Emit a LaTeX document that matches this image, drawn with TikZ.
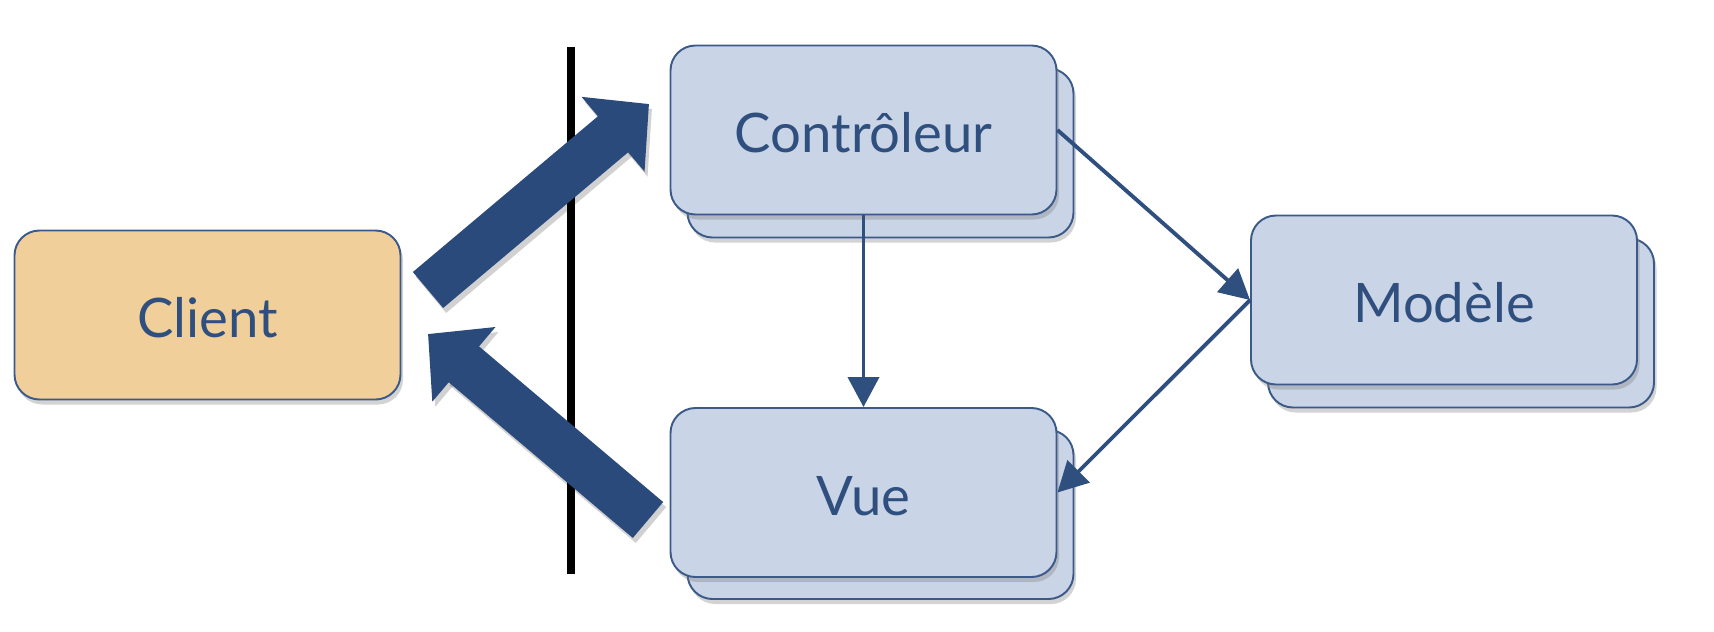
\documentclass[tikz,border=0pt]{standalone}
\usepackage{fontspec}
\setmainfont{Lato}
\usetikzlibrary{arrows.meta,shadows}

\definecolor{paneblue}{HTML}{C9D4E6}
\definecolor{edgeblue}{HTML}{3B5A89}
\definecolor{inkblue}{HTML}{2F4F7E}
\definecolor{clientfill}{HTML}{F0CF9A}
\definecolor{bigblue}{HTML}{2A4A7C}

\tikzset{
  pane/.style={draw=edgeblue,line width=1.1pt,fill=paneblue,rounded corners=0.5cm,
    minimum width=7.72cm,minimum height=3.38cm,text=inkblue,
    text height=0.9cm,text depth=0cm,
    font=\fontsize{31}{36}\selectfont,
    drop shadow={shadow xshift=0.05cm,shadow yshift=-0.1cm,opacity=0.35}},
  clientpane/.style={pane,fill=clientfill},
  flow/.style={draw=inkblue,line width=2.2pt,-{Triangle[length=0.6cm,width=0.62cm]}},
  bigflow/.style={draw=bigblue,line width=0.94cm,-{Triangle[length=0.94cm,width=1.9cm]}},
  bigshade/.style={draw=black,opacity=0.18,line width=0.94cm,-{Triangle[length=0.94cm,width=1.9cm]},
    transform canvas={shift={(0.06,-0.1)}}}
}

\begin{document}
\begin{tikzpicture}[line cap=butt,line join=miter]
  \useasboundingbox (0,0) rectangle (34.28,-12.64);

  % back copies of the stacked panes
  \node[pane] (ctrlback)  at (17.61,-3.06)  {};
  \node[pane] (vueback)   at (17.61,-10.29) {};
  \node[pane] (modelback) at (29.22,-6.46)  {};

  % front panes
  \node[clientpane] (client) at (4.15,-6.30)  {Client};
  \node[pane]       (ctrl)   at (17.27,-2.60) {Contrôleur};
  \node[pane]       (vue)    at (17.27,-9.85) {Vue};
  \node[pane]       (model)  at (28.88,-6.00) {Modèle};

  % border between client and server
  \coordinate (sepTop) at (11.42,-0.94);
  \coordinate (sepBot) at (11.42,-11.48);
  \draw[line width=0.16cm] (sepTop) -- (sepBot);

  % request / response
  \coordinate (reqStart) at (8.56,-5.80);
  \coordinate (reqEnd)   at (12.98,-2.08);
  \coordinate (resStart) at (12.96,-10.40);
  \coordinate (resEnd)   at (8.56,-6.68);
  \draw[bigshade] (reqStart) -- (reqEnd);
  \draw[bigshade] (resStart) -- (resEnd);
  \draw[bigflow] (reqStart) -- (reqEnd);
  \draw[bigflow] (resStart) -- (resEnd);

  % inner flow
  \draw[flow] (ctrl.south) -- (vue.north);
  \draw[flow] (ctrl.east) -- (model.west);
  \draw[flow] (model.west) -- (vue.east);
\end{tikzpicture}
\end{document}
